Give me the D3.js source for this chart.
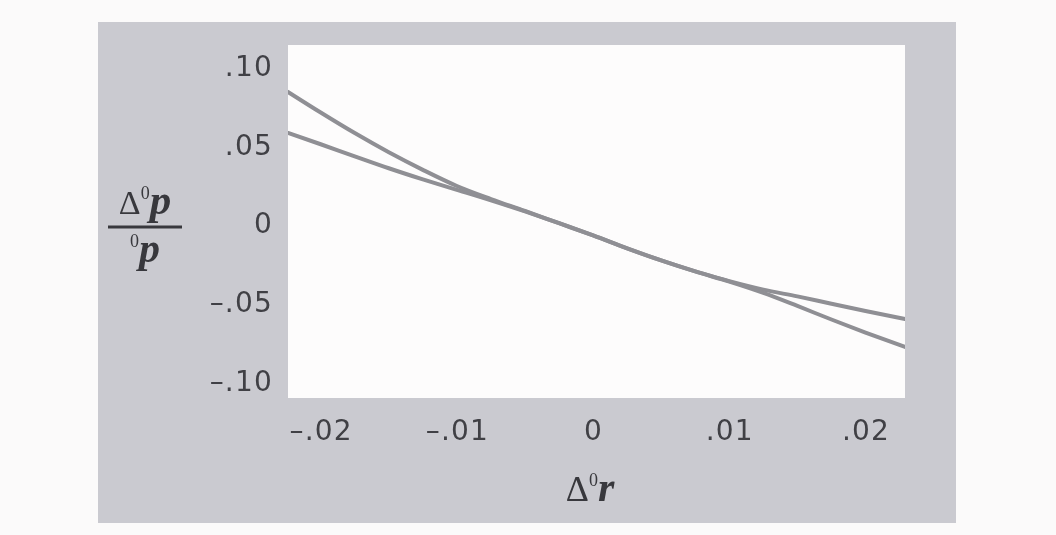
<!DOCTYPE html>
<html>
<head>
<meta charset="utf-8">
<script src="https://cdn.jsdelivr.net/npm/d3@7/dist/d3.min.js"></script>
<style>
  html, body { margin: 0; padding: 0; background: #fbfafa; }
  svg { display: block; }
</style>
</head>
<body>
<svg id="chart" width="1056" height="535"></svg>
<script>
// Change in interest rate (x) and relative price change (y) for two curves
const rateChange = [-0.0224, -0.02, -0.0175, -0.015, -0.0125, -0.01, -0.0075, -0.005, -0.0025,
                    0, 0.0025, 0.005, 0.0075, 0.01, 0.0125, 0.015, 0.0175, 0.02, 0.0229];
const curveSteep = [0.0841, 0.0710, 0.0579, 0.0457, 0.0345, 0.0242, 0.0159, 0.0083, 0.0005,
                    -0.0073, -0.0155, -0.0232, -0.0302, -0.0367, -0.0439, -0.0522, -0.0608, -0.0691, -0.0783];
const curveFlat  = [0.0580, 0.0508, 0.0431, 0.0355, 0.0284, 0.0217, 0.0151, 0.0080, 0.0005,
                    -0.0073, -0.0155, -0.0232, -0.0302, -0.0364, -0.0418, -0.0461, -0.0508, -0.0554, -0.0605];

const xTickValues = [-0.02, -0.01, 0, 0.01, 0.02];
const xTickLabels = ["\u2013.02", "\u2013.01", "0", ".01", ".02"];
const yTickValues = [0.10, 0.05, 0, -0.05, -0.10];
const yTickLabels = [".10", ".05", "0", "\u2013.05", "\u2013.10"];

const svg = d3.select("#chart");

// framed panel and plotting area
const panel = { x: 98, y: 22, w: 858, h: 501 };
const plot = { left: 288, right: 905, top: 45, bottom: 398 };

const x = d3.scaleLinear().domain([-0.0224, 0.0229]).range([plot.left, plot.right]);
const y = d3.scaleLinear().domain([-0.1108, 0.1140]).range([plot.bottom, plot.top]);

svg.append("rect")
  .attr("x", panel.x).attr("y", panel.y)
  .attr("width", panel.w).attr("height", panel.h)
  .attr("fill", "#cacad0");

svg.append("rect")
  .attr("x", plot.left).attr("y", plot.top)
  .attr("width", plot.right - plot.left).attr("height", plot.bottom - plot.top)
  .attr("fill", "#fdfcfc");

const defs = svg.append("defs");
defs.append("filter").attr("id", "soft")
  .append("feGaussianBlur").attr("stdDeviation", 0.6);

// curves
defs.append("clipPath").attr("id", "plotClip")
  .append("rect")
  .attr("x", plot.left).attr("y", plot.top)
  .attr("width", plot.right - plot.left).attr("height", plot.bottom - plot.top);

const line = d3.line()
  .x(d => x(d[0]))
  .y(d => y(d[1]))
  .curve(d3.curveMonotoneX);

const series = [curveFlat, curveSteep];
svg.append("g")
  .attr("clip-path", "url(#plotClip)")
  .attr("filter", "url(#soft)")
  .selectAll("path")
  .data(series)
  .join("path")
  .attr("d", s => line(rateChange.map((r, i) => [r, s[i]])))
  .attr("fill", "none")
  .attr("stroke", "#8f8f94")
  .attr("stroke-width", 4)
  .attr("stroke-linecap", "round");

// axes: labels only, no rule or tick marks
const tickFont = "'DejaVu Sans', 'Open Sans', sans-serif";

const xAxis = d3.axisBottom(x)
  .tickValues(xTickValues)
  .tickFormat((d, i) => xTickLabels[i])
  .tickSize(0)
  .tickPadding(22);

const gx = svg.append("g")
  .attr("transform", `translate(0,${plot.bottom})`)
  .call(xAxis);
gx.select(".domain").remove();

const yAxis = d3.axisLeft(y)
  .tickValues(yTickValues)
  .tickFormat((d, i) => yTickLabels[i])
  .tickSize(0)
  .tickPadding(15);

const gy = svg.append("g")
  .attr("transform", `translate(${plot.left},0)`)
  .call(yAxis);
gy.select(".domain").remove();

svg.selectAll(".tick text")
  .attr("font-family", tickFont)
  .attr("font-size", 28)
  .attr("letter-spacing", 1.2)
  .attr("fill", "#404045")
  .attr("filter", "url(#soft)");

// x-axis title: Δ⁰r
const serif = "'Liberation Serif', 'DejaVu Serif', serif";
const xTitle = svg.append("text")
  .attr("x", x(0) - 3)
  .attr("y", 501)
  .attr("text-anchor", "middle")
  .attr("font-family", serif)
  .attr("fill", "#38383c")
  .attr("filter", "url(#soft)");
xTitle.append("tspan").attr("font-size", 36).text("\u0394");
xTitle.append("tspan").attr("font-size", 18).attr("dy", -15).text("0");
xTitle.append("tspan").attr("font-size", 42).attr("font-style", "italic").attr("font-weight", "bold").attr("dy", 15).text("r");

// y-axis title: Δ⁰p over ⁰p
const yTitle = svg.append("g").attr("fill", "#38383c").attr("filter", "url(#soft)");
const num = yTitle.append("text")
  .attr("x", 145).attr("y", 214)
  .attr("text-anchor", "middle")
  .attr("font-family", serif);
num.append("tspan").attr("font-size", 34).text("\u0394");
num.append("tspan").attr("font-size", 18).attr("dy", -15).text("0");
num.append("tspan").attr("font-size", 43).attr("font-style", "italic").attr("font-weight", "bold").attr("dy", 15).text("p");

yTitle.append("line")
  .attr("x1", 108).attr("x2", 182)
  .attr("y1", 227).attr("y2", 227)
  .attr("stroke", "#38383c")
  .attr("stroke-width", 2.8);

const den = yTitle.append("text")
  .attr("x", 145).attr("y", 262)
  .attr("text-anchor", "middle")
  .attr("font-family", serif);
den.append("tspan").attr("font-size", 18).attr("dy", -15).text("0");
den.append("tspan").attr("font-size", 42).attr("font-style", "italic").attr("font-weight", "bold").attr("dy", 15).text("p");
</script>
</body>
</html>
